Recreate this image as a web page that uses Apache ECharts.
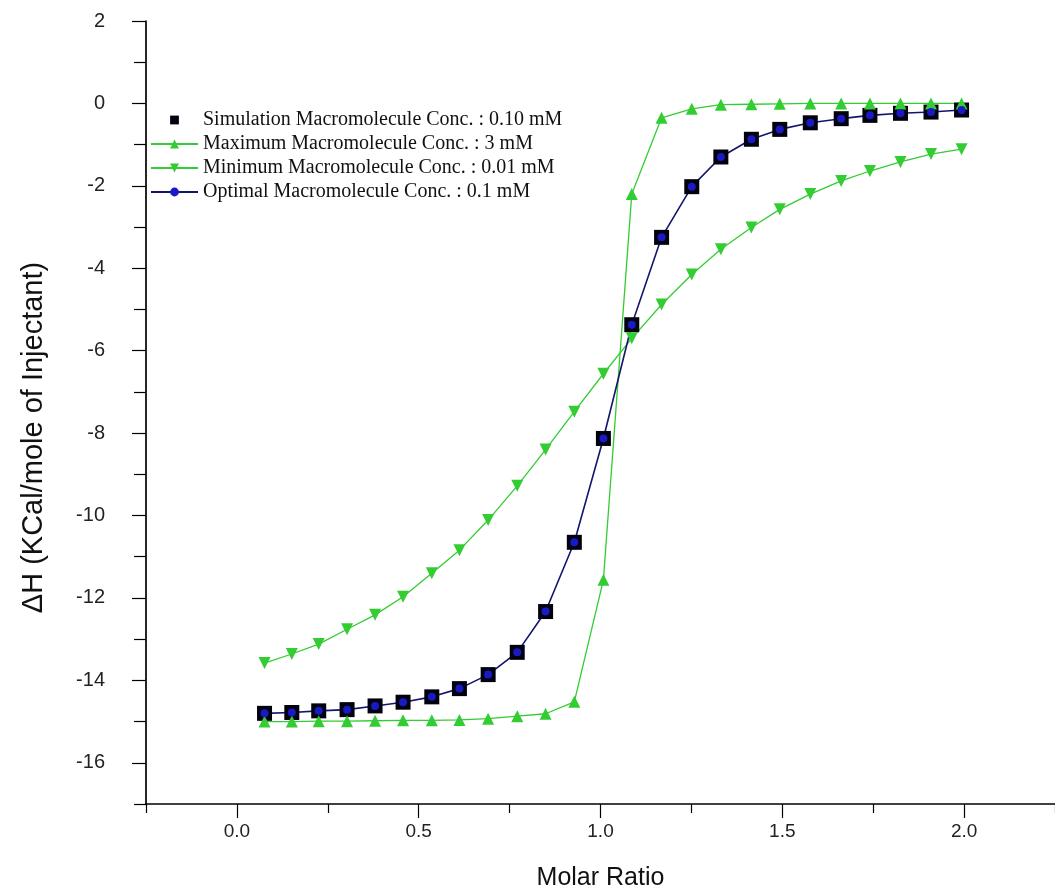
<!DOCTYPE html>
<html><head><meta charset="utf-8">
<script src="https://cdn.jsdelivr.net/npm/echarts@6/dist/echarts.min.js"></script>
<style>html,body{margin:0;padding:0;background:#fff}#chart{width:1055px;height:896px}</style>
</head><body><div id="chart"></div>
<script>
const molarRatio = [0.076,0.151,0.225,0.303,0.380,0.457,0.536,0.612,0.691,0.771,0.849,0.928,1.008,1.086,1.168,1.251,1.331,1.415,1.493,1.577,1.662,1.741,1.825,1.909,1.993];
const simulationConc010 = [-14.80,-14.78,-14.74,-14.71,-14.62,-14.53,-14.40,-14.20,-13.86,-13.32,-12.33,-10.65,-8.13,-5.37,-3.25,-2.02,-1.30,-0.87,-0.63,-0.47,-0.37,-0.29,-0.24,-0.21,-0.16];
const maximumConc3 = [-15.00,-15.00,-14.99,-14.99,-14.98,-14.97,-14.97,-14.96,-14.93,-14.87,-14.81,-14.52,-11.56,-2.20,-0.35,-0.13,-0.03,-0.02,-0.01,0,0,0,0,0,0];
const minimumConc001 = [-13.58,-13.36,-13.12,-12.76,-12.41,-11.97,-11.40,-10.84,-10.11,-9.28,-8.40,-7.48,-6.56,-5.70,-4.88,-4.15,-3.54,-3.01,-2.57,-2.20,-1.88,-1.64,-1.42,-1.23,-1.11];
const optimalConc01 = [-14.80,-14.78,-14.74,-14.71,-14.62,-14.53,-14.40,-14.20,-13.86,-13.32,-12.33,-10.65,-8.13,-5.37,-3.25,-2.02,-1.30,-0.87,-0.63,-0.47,-0.37,-0.29,-0.24,-0.21,-0.16];
const seriesNames = [
  'Simulation Macromolecule Conc. : 0.10 mM',
  'Maximum Macromolecule Conc. : 3 mM',
  'Minimum Macromolecule Conc. : 0.01 mM',
  'Optimal Macromolecule Conc. : 0.1 mM'
];
const xTickValues = [0, 0.5, 1.0, 1.5, 2.0];
const xMinorTickValues = [-0.25, 0.25, 0.75, 1.25, 1.75, 2.25];
const yTickValues = [-16, -14, -12, -10, -8, -6, -4, -2, 0, 2];
const yMinorTickValues = [-17, -15, -13, -11, -9, -7, -5, -3, -1, 1];
const xAxisTitle = 'Molar Ratio';
const yAxisTitle = '\u0394H (KCal/mole of Injectant)';

const zip = (ys) => molarRatio.map((x, i) => [x, ys[i]]);
const GREEN = '#33cc33';
const SANS = '"Liberation Sans", Arial, sans-serif';

const chart = echarts.init(document.getElementById('chart'), null, {renderer: 'canvas'});
chart.setOption({
  animation: false,
  backgroundColor: '#ffffff',
  grid: {left: 146, right: -9, top: 21, bottom: 90, containLabel: false},
  legend: {
    orient: 'vertical', left: 145, top: 105, itemWidth: 47, itemHeight: 11, itemGap: 4,
    selectedMode: false,
    textStyle: {fontFamily: '"Liberation Serif", "Times New Roman", serif', fontSize: 20, color: '#111'},
    data: seriesNames
  },
  xAxis: [{
    type: 'value', min: -0.25, max: 2.25, position: 'bottom',
    axisLine: {show: true, onZero: false, lineStyle: {color: '#000', width: 1.7}},
    axisTick: {show: true, customValues: xTickValues, length: 14, lineStyle: {color: '#000', width: 1.2}},
    axisLabel: {customValues: xTickValues, formatter: v => Number(v).toFixed(1), margin: 18, fontSize: 19, fontFamily: SANS, color: '#222'},
    splitLine: {show: false},
    name: xAxisTitle, nameLocation: 'middle', nameGap: 62,
    nameTextStyle: {fontSize: 25, fontFamily: SANS, color: '#111'}
  }, {
    type: 'value', min: -0.25, max: 2.25, position: 'bottom',
    axisLine: {show: false, onZero: false},
    axisTick: {show: true, customValues: xMinorTickValues, length: 9, lineStyle: {color: '#000', width: 1.2}},
    axisLabel: {show: false},
    splitLine: {show: false}
  }],
  yAxis: [{
    type: 'value', min: -17, max: 2, position: 'left',
    axisLine: {show: true, onZero: false, lineStyle: {color: '#000', width: 1.7}},
    axisTick: {show: true, customValues: yTickValues, length: 14, lineStyle: {color: '#000', width: 1.2}},
    axisLabel: {customValues: yTickValues, margin: 41, fontSize: 20, fontFamily: SANS, color: '#222'},
    splitLine: {show: false},
    name: yAxisTitle, nameLocation: 'middle', nameGap: 98, nameRotate: 90,
    nameTextStyle: {fontSize: 29, fontFamily: SANS, color: '#111', padding: [0, 50, 0, 0]}
  }, {
    type: 'value', min: -17, max: 2, position: 'left',
    axisLine: {show: false, onZero: false},
    axisTick: {show: true, customValues: yMinorTickValues, length: 12, lineStyle: {color: '#000', width: 1.2}},
    axisLabel: {show: false},
    splitLine: {show: false}
  }],
  series: [{
    name: seriesNames[0], type: 'line', data: zip(simulationConc010),
    symbol: 'rect', symbolSize: 15,
    itemStyle: {color: '#02020e'},
    lineStyle: {width: 0, opacity: 0}
  }, {
    name: seriesNames[1], type: 'line', data: zip(maximumConc3),
    symbol: 'triangle', symbolSize: 12,
    itemStyle: {color: GREEN},
    lineStyle: {color: GREEN, width: 1.3}
  }, {
    name: seriesNames[2], type: 'line', data: zip(minimumConc001),
    symbol: 'triangle', symbolRotate: 180, symbolSize: 12,
    itemStyle: {color: GREEN},
    lineStyle: {color: GREEN, width: 1.3}
  }, {
    name: seriesNames[3], type: 'line', data: zip(optimalConc01),
    symbol: 'circle', symbolSize: 8,
    itemStyle: {color: '#1a1ac4'},
    lineStyle: {color: '#14146e', width: 1.6}
  }]
});
</script></body></html>
